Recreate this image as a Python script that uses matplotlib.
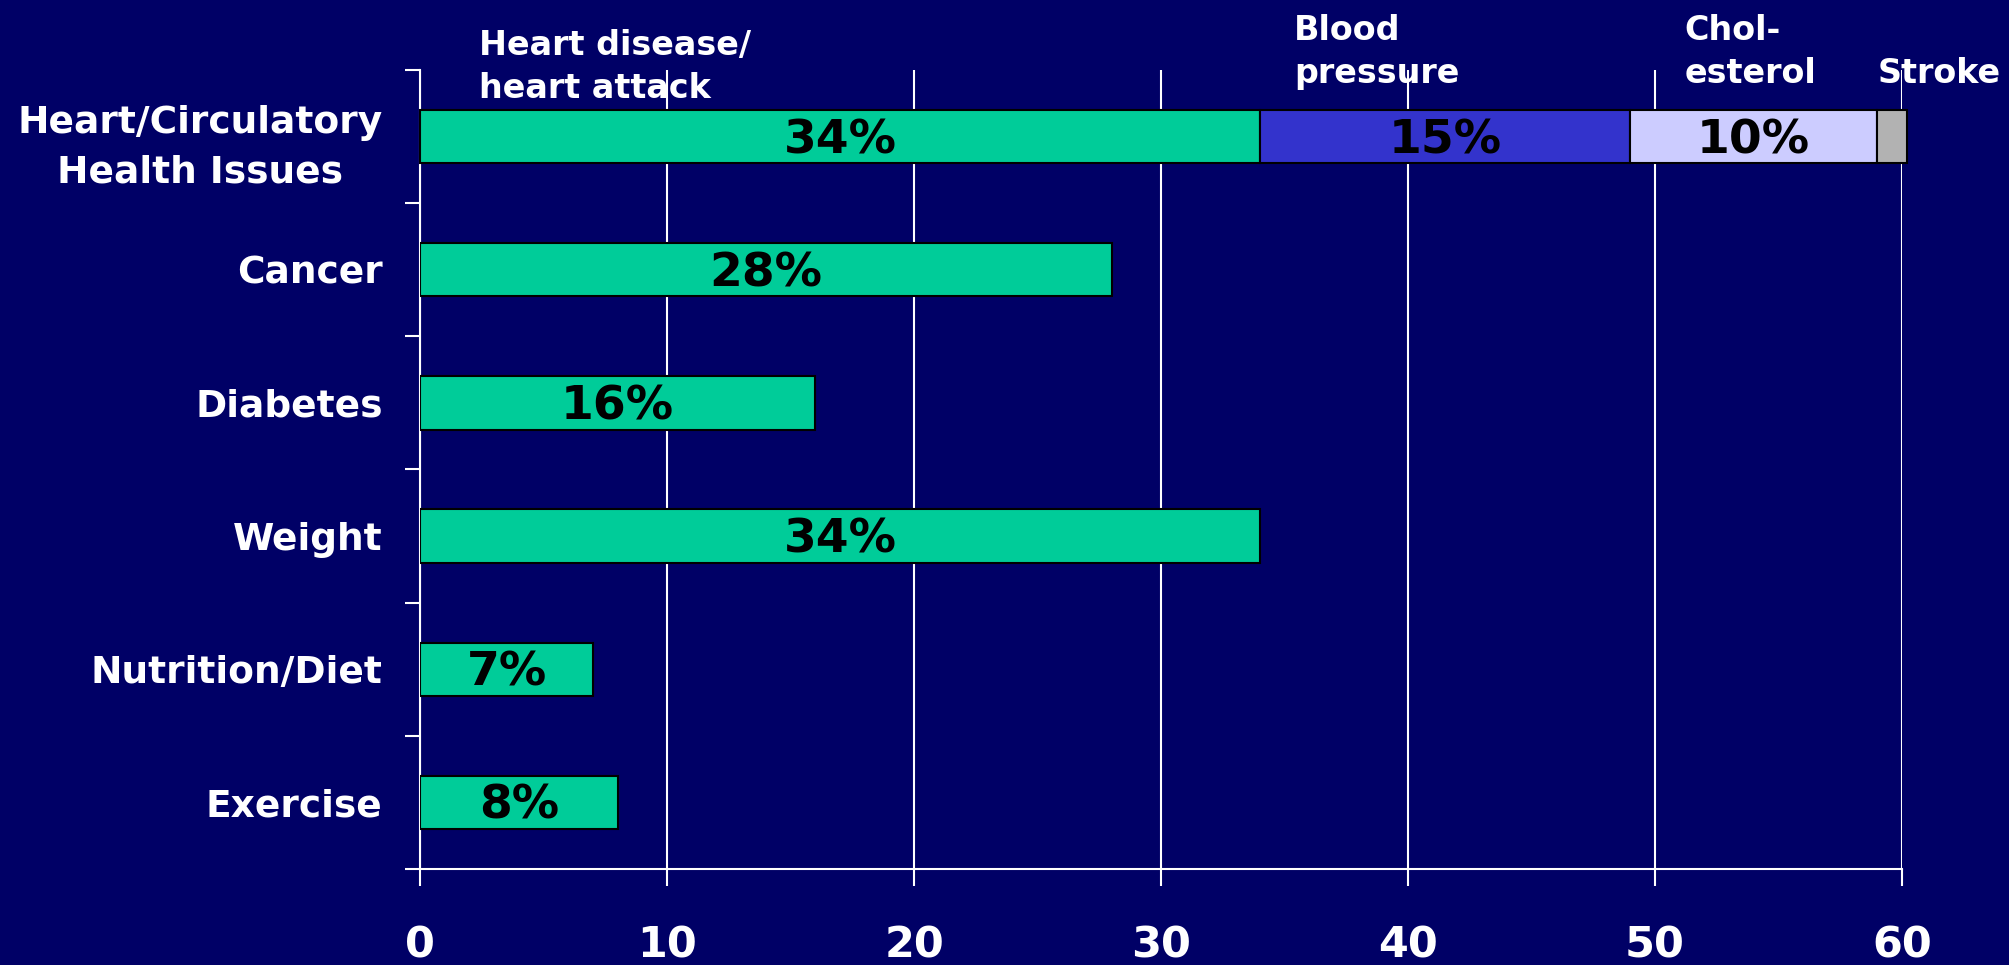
import matplotlib.pyplot as plt

categories = ['Heart/Circulatory\nHealth Issues', 'Cancer', 'Diabetes', 'Weight', 'Nutrition/Diet', 'Exercise']
totals = [34, 28, 16, 34, 7, 8]

# breakdown of the first bar
segment_names = ['Heart disease/\nheart attack', 'Blood\npressure', 'Chol-\nesterol', 'Stroke']
segment_values = [34, 15, 10, 1.2]
segment_labels = ['34%', '15%', '10%', '']
segment_colors = ['#00CC99', '#3333CC', '#CCCCFF', '#B2B2B2']

bar_labels = ['', '28%', '16%', '34%', '7%', '8%']
xticks = [0, 10, 20, 30, 40, 50, 60]

bg = '#000066'
plt.rcParams['font.family'] = ['DejaVu Sans']
plt.rcParams['font.weight'] = 'bold'

fig = plt.figure(figsize=(20.09, 9.65), dpi=100, facecolor=bg)
ax = fig.add_axes([0.2091, 0.0995, 0.7376, 0.828])
ax.set_facecolor(bg)

ypos = list(range(len(categories)))
bar_h = 0.4

# stacked first bar
left = 0
for val, lab, col in zip(segment_values, segment_labels, segment_colors):
    ax.barh(0, val, left=left, height=bar_h, color=col, edgecolor='black',
            linewidth=1.5, zorder=3, clip_on=False)
    if lab:
        ax.text(left + val / 2, 0.03, lab, ha='center', va='center',
                fontsize=34, fontweight='bold', color='black', zorder=4)
    left += val

# the remaining single bars
for y, val, lab in zip(ypos[1:], totals[1:], bar_labels[1:]):
    ax.barh(y, val, height=bar_h, color='#00CC99', edgecolor='black',
            linewidth=1.5, zorder=3)
    ax.text(val / 2, y + 0.03, lab, ha='center', va='center',
            fontsize=34, fontweight='bold', color='black', zorder=4)

# segment names above the first bar (baseline of the last line)
name_offsets = [2.4, 1.4, 2.2, 0.0]
name_y = [-0.29, -0.40, -0.40, -0.40]
starts = [sum(segment_values[:i]) for i in range(len(segment_values))]
for s, off, ny, name in zip(starts, name_offsets, name_y, segment_names):
    ax.text(s + off, ny, name, ha='left', va='baseline', fontsize=24,
            fontweight='bold', color='white', linespacing=1.4, zorder=5,
            clip_on=False)

ax.set_xlim(0, 60)
ax.set_ylim(len(categories) - 0.5, -0.5)
ax.set_xticks(xticks)
ax.set_xticklabels([str(t) for t in xticks], fontsize=31, fontweight='bold', color='white')
ax.tick_params(axis='x', direction='out', length=12, width=1.5, color='white', pad=28)

# ticks between categories, labels at category centres
ax.set_yticks([i - 0.5 for i in range(len(categories) + 1)])
ax.set_yticklabels([])
ax.set_yticks(ypos, minor=True)
ax.set_yticklabels(categories, minor=True, fontsize=27, fontweight='bold',
                   color='white', linespacing=1.5, multialignment='center')
ax.tick_params(axis='y', which='major', direction='out', length=11, width=1.5, color='white')
ax.tick_params(axis='y', which='minor', length=0, pad=27)

ax.grid(axis='x', color='white', linewidth=1.5, zorder=1)
ax.set_axisbelow(True)
for side in ['top', 'right']:
    ax.spines[side].set_visible(False)
for side in ['left', 'bottom']:
    ax.spines[side].set_color('white')
    ax.spines[side].set_linewidth(1.5)

fig.savefig('out.png', dpi=100, facecolor=bg)
